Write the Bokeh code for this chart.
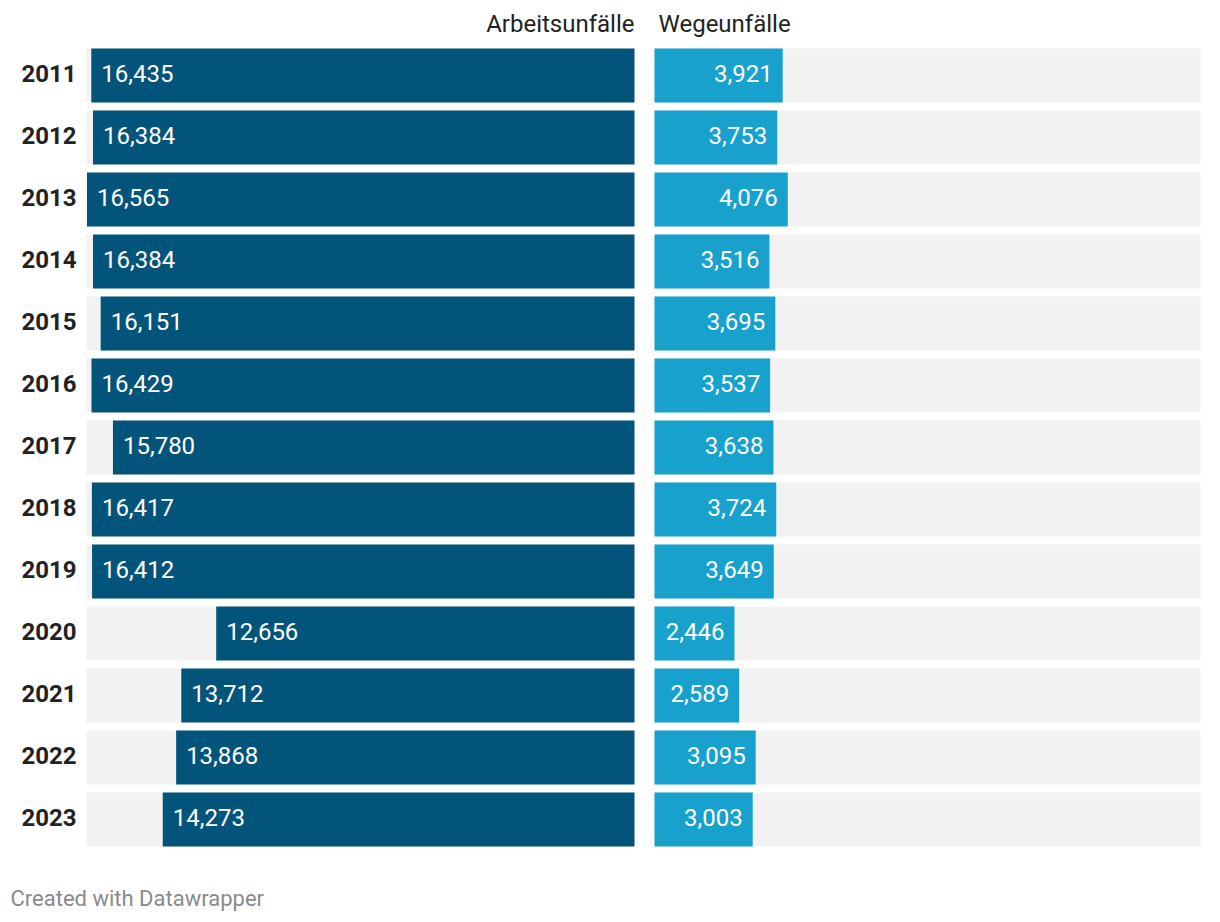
from bokeh.plotting import figure
from bokeh.models import Range1d, ColumnDataSource, Label
from bokeh.core.properties import value
from bokeh.embed import file_html
from bokeh.resources import INLINE
import numpy as np

years = ["2011", "2012", "2013", "2014", "2015", "2016", "2017",
         "2018", "2019", "2020", "2021", "2022", "2023"]
arbeitsunfaelle = [16435, 16384, 16565, 16384, 16151, 16429, 15780,
                   16417, 16412, 12656, 13712, 13868, 14273]
wegeunfaelle = [3921, 3753, 4076, 3516, 3695, 3537, 3638,
                3724, 3649, 2446, 2589, 3095, 3003]
header_left = "Arbeitsunfälle"
header_right = "Wegeunfälle"
footer = "Created with Datawrapper"

W, H = 1220, 922
FONT = value("Roboto")
DARK = "#03547b"
LIGHT = "#18a1cd"
BG = "#f2f2f2"

# scales: px per unit
left_max = 16580.0
right_max = 16700.0
kl = 548 / left_max
kr = 546 / right_max
zero_l_px = 634.0
zero_r_px = 654.0

# rows: center of first row at 75 px, pitch 62 px
pitch = 62.0
first_c = 75.0
y_top = -first_c / pitch
y_bot = (H - first_c) / pitch

p = figure(width=W, height=H, output_backend="svg", toolbar_location=None,
           x_range=Range1d(zero_l_px / kl, (zero_l_px - W) / kl),
           y_range=Range1d(y_bot, y_top),
           x_axis_location=None, y_axis_location=None,
           min_border=0, outline_line_color=None)
p.extra_x_ranges = {"r": Range1d(-zero_r_px / kr, (W - zero_r_px) / kr)}
p.xgrid.visible = False
p.ygrid.visible = False
p.background_fill_color = "white"
p.border_fill_color = "white"

n = len(years)
idx = np.arange(n)
src = ColumnDataSource(dict(
    y=idx, year=years,
    a=arbeitsunfaelle, w=wegeunfaelle,
    a_lbl=[f"{v:,}" for v in arbeitsunfaelle],
    w_lbl=[f"{v:,}" for v in wegeunfaelle],
    lmax=[left_max] * n, rmax=[right_max] * n,
))
bh = 54 / pitch

# backgrounds
p.hbar(y="y", left=0, right="lmax", height=bh, source=src, color=BG, line_color=None)
p.hbar(y="y", left=0, right="rmax", height=bh, source=src, color=BG, line_color=None,
       x_range_name="r")
# bars
p.hbar(y="y", left=0, right="a", height=bh, source=src, color=DARK, line_color=None)
p.hbar(y="y", left=0, right="w", height=bh, source=src, color=LIGHT, line_color=None,
       x_range_name="r")

FS = "24px"
# value labels
p.text(x="a", y="y", text="a_lbl", source=src, text_align="left",
       text_baseline="middle", x_offset=10, y_offset=-2,
       text_color="white", text_font=FONT, text_font_size=FS)
p.text(x="w", y="y", text="w_lbl", source=src, text_align="right",
       text_baseline="middle", x_offset=-10, y_offset=-2,
       text_color="white", text_font=FONT, text_font_size=FS,
       x_range_name="r")

# year labels
p.text(x="lmax", y="y", text="year", source=src, text_align="right",
       text_baseline="middle", x_offset=-10, y_offset=-2,
       text_color="#222222", text_font=FONT, text_font_size=FS,
       text_font_style="bold")

# headers
hy = (23.5 - first_c) / pitch
p.text(x=[0], y=[hy], text=[header_left], text_align="right",
       text_baseline="middle", text_color="#222222", text_font=FONT,
       text_font_size=FS)
p.text(x=[0], y=[hy], text=[header_right], text_align="left",
       text_baseline="middle", x_offset=4, text_color="#222222",
       text_font=FONT, text_font_size=FS, x_range_name="r")

# footer
p.add_layout(Label(x=10, y=H - 898, x_units="screen", y_units="screen",
                   text=footer, text_font="Roboto", text_font_size="22px",
                   text_color="#8a8a8a", text_baseline="middle"))

open("out.html", "w").write(file_html(p, INLINE))
